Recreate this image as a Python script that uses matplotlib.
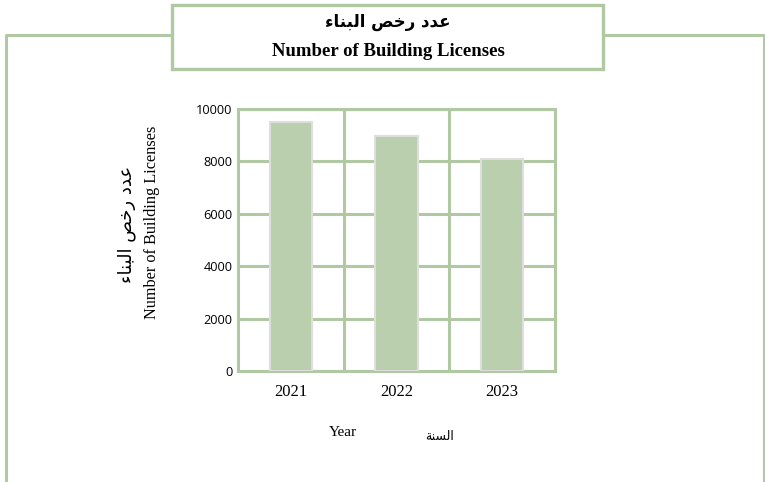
import matplotlib.pyplot as plt
from matplotlib.lines import Line2D
from matplotlib.patches import Rectangle

years = ['2021', '2022', '2023']
licenses = [9500, 8970, 8110]
y_ticks = [0, 2000, 4000, 6000, 8000, 10000]

# Arabic strings in shaped presentation forms, visual order
# (matplotlib does no Arabic shaping / bidi by itself)
title_ar = '\uFE80\uFE8E\uFEE8\uFE92\uFEDF\uFE8D \uFEBA\uFEA7\uFEAD \uFEA9\uFEAA\uFECB'   # عدد رخص البناء
title_en = 'Number of Building Licenses'
xlabel_ar = '\uFE94\uFEE8\uFEB4\uFEDF\uFE8D'   # السنة
xlabel_en = 'Year'

green = '#b1c9a2'
bar_color = '#bacfad'
serif = ['Liberation Serif', 'DejaVu Sans']
arabic = ['DejaVu Sans']

fig = plt.figure(figsize=(7.65, 4.82), dpi=100)
W, H = 765, 482

def px(x, y):
    return x / W, 1 - y / H

# outer frame (open at bottom)
xs = [6 / W, 6 / W, 764 / W, 764 / W]
ys = [0, 1 - 35 / H, 1 - 35 / H, 0]
fig.add_artist(Line2D(xs, ys, color=green, lw=2.2, transform=fig.transFigure))

# title box
x0, y0 = px(172, 69)
x1, y1 = px(603, 5)
fig.add_artist(Rectangle((x0, y0), x1 - x0, y1 - y0, transform=fig.transFigure,
                         facecolor='white', edgecolor=green, lw=2.4, zorder=3))
fig.text(*px(388, 22), title_ar, family=arabic, fontsize=12, fontweight='bold',
         ha='center', va='center', zorder=4)
fig.text(*px(388, 51), title_en, family=serif, fontsize=13.5, fontweight='bold',
         ha='center', va='center', zorder=4)

# plot area
l, b = px(238, 371)
r, t = px(555, 109)
ax = fig.add_axes([l, b, r - l, t - b])
ax.bar(range(len(years)), licenses, width=0.4, color=bar_color,
       edgecolor='#dedede', linewidth=1.5, zorder=3)
ax.set_xlim(-0.5, len(years) - 0.5)
ax.set_ylim(0, 10000)
ax.set_yticks(y_ticks)
ax.set_yticklabels([str(v) for v in y_ticks], family='Open Sans', fontsize=9.2)
ax.set_xticks(range(len(years)))
ax.set_xticklabels(years, family=serif, fontsize=12)
ax.tick_params(length=0, pad=4)
ax.tick_params(axis='x', pad=9)
ax.yaxis.grid(True, color=green, lw=2.2, zorder=1)
for xv in [0.5, 1.5]:
    ax.axvline(xv, color=green, lw=2.2, zorder=1)
for s in ax.spines.values():
    s.set_color(green)
    s.set_linewidth(2.2)

# y label (two lines)
fig.text(*px(127, 224), title_ar, family=arabic, fontsize=13, rotation=90,
         ha='center', va='center')
fig.text(*px(152, 222), title_en, family=serif, fontsize=11.7, rotation=90,
         ha='center', va='center')

# x label
fig.text(*px(343, 432), xlabel_en, family=serif, fontsize=11, ha='center', va='center')
fig.text(*px(440, 436), xlabel_ar, family=arabic, fontsize=9, ha='center', va='center')

fig.savefig('out.png', dpi=100)
